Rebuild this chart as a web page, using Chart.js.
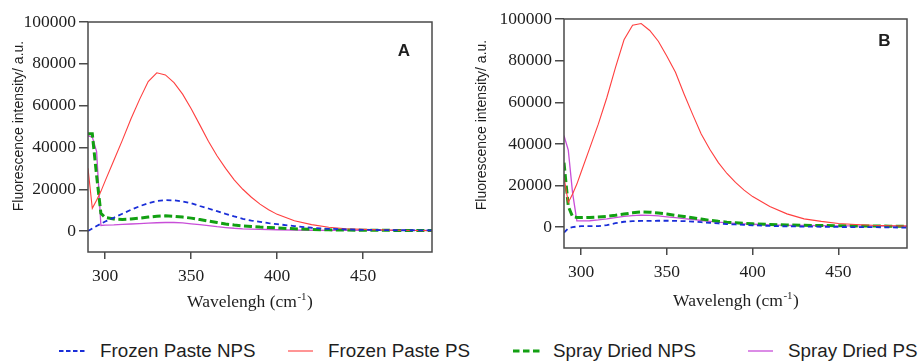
<!DOCTYPE html>
<html>
<head>
<meta charset="utf-8">
<script src="https://cdn.jsdelivr.net/npm/chart.js@4.4.1/dist/chart.umd.min.js"></script>
<style>
html,body{margin:0;padding:0;background:#fff;}
#wrap{position:relative;width:921px;height:361px;overflow:hidden;background:#fff;}
.panel{position:absolute;top:0;}
.lg{position:absolute;top:340px;height:22px;line-height:22px;font-family:"Liberation Sans",Arial,sans-serif;font-size:18.8px;color:#1e1e1e;white-space:nowrap;}
#lgsvg{position:absolute;left:0;top:330px;}
</style>
</head>
<body>
<div id="wrap">
  <div class="panel" style="left:0;width:460px;height:320px;"><canvas id="cA" width="460" height="320"></canvas></div>
  <div class="panel" style="left:460px;width:461px;height:320px;"><canvas id="cB" width="461" height="320"></canvas></div>
  <svg id="lgsvg" width="921" height="31"></svg>
  <div id="legend"></div>
</div>
<script>
// ---------- data ----------
const wavelengths = [290, 292.5, 295, 297.5, 300, 305, 310, 315, 320, 325, 330, 335, 340, 345, 350, 355, 360, 365, 370, 375, 380, 385, 390, 395, 400, 410, 420, 430, 440, 450, 460, 470, 480, 490];
const xTicks = [300, 350, 400, 450];
const yTicks = [0, 20000, 40000, 60000, 80000, 100000];
const seriesNames = ['Frozen Paste NPS', 'Frozen Paste PS', 'Spray Dried NPS', 'Spray Dried PS'];

// Panel A
const frozenNPS_A = [0, 1200, 2400, 3500, 4600, 6400, 8300, 10200, 11900, 13300, 14400, 14800, 14700, 14200, 13300, 12000, 10800, 9500, 8200, 7000, 5900, 5000, 4400, 3800, 3300, 2400, 1600, 1100, 800, 600, 500, 400, 400, 300];
const frozenPS_A  = [30000, 10900, 14800, 19000, 24000, 33800, 43500, 53700, 63000, 71500, 75700, 74700, 71000, 65500, 58500, 50800, 43000, 36000, 30000, 24500, 20000, 16200, 12900, 10200, 8000, 4900, 3100, 1800, 1100, 800, 600, 400, 300, 200];
const sprayNPS_A  = [46500, 46500, 26500, 8500, 6500, 5800, 5600, 5800, 6200, 6700, 7100, 7300, 7100, 6700, 6200, 5500, 4800, 4100, 3400, 2900, 2500, 2200, 1900, 1700, 1500, 1100, 800, 600, 500, 400, 400, 300, 300, 300];
const sprayPS_A   = [45500, 45000, 38000, 2700, 2900, 3000, 3200, 3400, 3600, 3800, 4000, 4100, 4100, 3900, 3500, 3100, 2600, 2100, 1700, 1350, 1100, 950, 850, 750, 650, 500, 400, 350, 300, 300, 300, 300, 300, 300];

// Panel B
const frozenNPS_B = [-2600, -500, 0, 300, 500, 500, 500, 1000, 1900, 2600, 2900, 3000, 3000, 3100, 3100, 3000, 2900, 2700, 2400, 2100, 1800, 1500, 1300, 1100, 900, 600, 400, 300, 200, 100, 0, 0, -100, -200];
const frozenPS_B  = [24000, 11800, 15900, 20700, 26500, 38000, 49500, 62300, 76600, 90000, 97000, 97800, 94500, 89300, 82100, 74400, 64000, 54200, 44800, 37400, 31000, 25800, 21500, 17800, 14700, 9900, 6400, 4000, 2800, 1800, 1300, 900, 700, 500];
const sprayNPS_B  = [31000, 10000, 5000, 4700, 4600, 4700, 4900, 5200, 5700, 6300, 6900, 7300, 7200, 6800, 6300, 5700, 5100, 4500, 3900, 3300, 2800, 2400, 2100, 1800, 1600, 1300, 1100, 900, 800, 700, 600, 600, 500, 500];
const sprayPS_B   = [44000, 37000, 16500, 3000, 3000, 3100, 3500, 4000, 4600, 5200, 5600, 5800, 5700, 5400, 5000, 4600, 4100, 3700, 3200, 2800, 2400, 2100, 1800, 1600, 1400, 1100, 900, 800, 700, 600, 600, 500, 500, 500];

// ---------- styles ----------
const seriesStyles = [
  { color: '#1a2ed8', width: 1.8, dash: [5, 3.5] },
  { color: '#ff3f3f', width: 1.1, dash: [] },
  { color: '#12a012', width: 3,   dash: [8, 3.5] },
  { color: '#c84ed8', width: 1.3, dash: [] }
];

const toPoints = vals => wavelengths.map((w, i) => ({ x: w, y: vals[i] }));

function buildDatasets(seriesVals) {
  return seriesVals.map((vals, i) => ({
    label: seriesNames[i],
    data: toPoints(vals),
    borderColor: seriesStyles[i].color,
    backgroundColor: seriesStyles[i].color,
    borderWidth: seriesStyles[i].width,
    borderDash: seriesStyles[i].dash,
    pointRadius: 0,
    tension: 0,
    fill: false
  }));
}

const decorPlugin = {
  id: 'decor',
  afterDraw(chart, args, o) {
    const { ctx, chartArea: a } = chart;
    ctx.save();
    ctx.strokeStyle = '#4a4a4a';
    ctx.lineWidth = 1.5;
    ctx.strokeRect(a.left, a.top, a.right - a.left, a.bottom - a.top);
    ctx.fillStyle = '#1e1e1e';
    // y title
    ctx.save();
    ctx.translate(o.yTitleX, o.yTitleY);
    ctx.rotate(-Math.PI / 2);
    ctx.font = '14px "Liberation Sans", Arial, sans-serif';
    ctx.textAlign = 'center';
    ctx.textBaseline = 'middle';
    ctx.fillText('Fluorescence intensity/ a.u.', 0, 0);
    ctx.restore();
    // x title with superscript
    const mainFont = '17.5px "Liberation Serif", "Times New Roman", serif';
    const supFont = '11px "Liberation Serif", "Times New Roman", serif';
    const t1 = 'Wavelengh (cm', t2 = '-1', t3 = ')';
    ctx.font = mainFont; const w1 = ctx.measureText(t1).width; const w3 = ctx.measureText(t3).width;
    ctx.font = supFont; const w2 = ctx.measureText(t2).width;
    let x0 = o.xTitleX - (w1 + w2 + w3) / 2;
    ctx.textAlign = 'left';
    ctx.textBaseline = 'alphabetic';
    ctx.font = mainFont; ctx.fillText(t1, x0, o.xTitleY);
    ctx.font = supFont; ctx.fillText(t2, x0 + w1 + 0.5, o.xTitleY - 7);
    ctx.font = mainFont; ctx.fillText(t3, x0 + w1 + w2 + 1, o.xTitleY);
    // panel letter
    ctx.font = 'bold 17px "Liberation Sans", Arial, sans-serif';
    ctx.textAlign = 'center';
    ctx.textBaseline = 'middle';
    ctx.fillText(o.letter, o.letterX, o.letterY);
    ctx.restore();
  }
};

function makeChart(id, seriesVals, cfg) {
  return new Chart(document.getElementById(id), {
    type: 'line',
    data: { datasets: buildDatasets(seriesVals) },
    plugins: [decorPlugin],
    options: {
      responsive: false,
      animation: false,
      devicePixelRatio: 1,
      layout: { padding: { left: 0, top: cfg.padTop, right: cfg.padRight, bottom: 0 } },
      plugins: {
        legend: { display: false },
        tooltip: { enabled: false },
        decor: cfg.decor
      },
      scales: {
        x: {
          type: 'linear',
          min: 290, max: 490,
          afterBuildTicks: s => { s.ticks = xTicks.map(v => ({ value: v })); },
          afterFit: s => { s.height = cfg.xH; },
          ticks: {
            font: { family: '"Liberation Serif", "Times New Roman", serif', size: 17.5 },
            color: '#1e1e1e', padding: 7, maxRotation: 0, autoSkip: false,
            callback: v => String(v)
          },
          grid: { drawOnChartArea: false, drawTicks: true, tickLength: 7, color: '#4a4a4a', lineWidth: 1.5 },
          border: { display: false }
        },
        y: {
          type: 'linear',
          min: -10000, max: 100000,
          afterBuildTicks: s => { s.ticks = yTicks.map(v => ({ value: v })); },
          afterFit: s => { s.width = cfg.yW; },
          ticks: {
            font: { family: '"Liberation Serif", "Times New Roman", serif', size: 17.5 },
            color: '#1e1e1e', padding: 3,
            callback: v => String(v)
          },
          grid: { drawOnChartArea: false, drawTicks: true, tickLength: 9, color: '#4a4a4a', lineWidth: 1.5 },
          border: { display: false }
        }
      }
    }
  });
}

makeChart('cA', [frozenNPS_A, frozenPS_A, sprayNPS_A, sprayPS_A], {
  padTop: 22, padRight: 28, yW: 88, xH: 68,
  decor: { yTitleX: 19, yTitleY: 126, xTitleX: 249.5, xTitleY: 307, letter: 'A', letterX: 404, letterY: 51 }
});
makeChart('cB', [frozenNPS_B, frozenPS_B, sprayNPS_B, sprayPS_B], {
  padTop: 19, padRight: 14, yW: 104, xH: 72,
  decor: { yTitleX: 22, yTitleY: 125, xTitleX: 275.5, xTitleY: 306, letter: 'B', letterX: 424.5, letterY: 41 }
});

// ---------- legend (HTML) ----------
const legendLineX = [[59, 86], [288, 313], [513, 540], [748, 773]];
const legendTextX = [100, 328, 553, 788];
const svg = document.getElementById('lgsvg');
const lg = document.getElementById('legend');
seriesNames.forEach((name, i) => {
  const st = seriesStyles[i];
  const ln = document.createElementNS('http://www.w3.org/2000/svg', 'line');
  ln.setAttribute('x1', legendLineX[i][0]);
  ln.setAttribute('x2', legendLineX[i][1]);
  ln.setAttribute('y1', 21);
  ln.setAttribute('y2', 21);
  ln.setAttribute('stroke', st.color);
  ln.setAttribute('stroke-width', st.width);
  if (st.dash.length) ln.setAttribute('stroke-dasharray', i === 0 ? '4.5 2.5' : '6.5 3.5');
  svg.appendChild(ln);
  const sp = document.createElement('div');
  sp.className = 'lg';
  sp.style.left = legendTextX[i] + 'px';
  sp.textContent = name;
  lg.appendChild(sp);
});
</script>
</body>
</html>
